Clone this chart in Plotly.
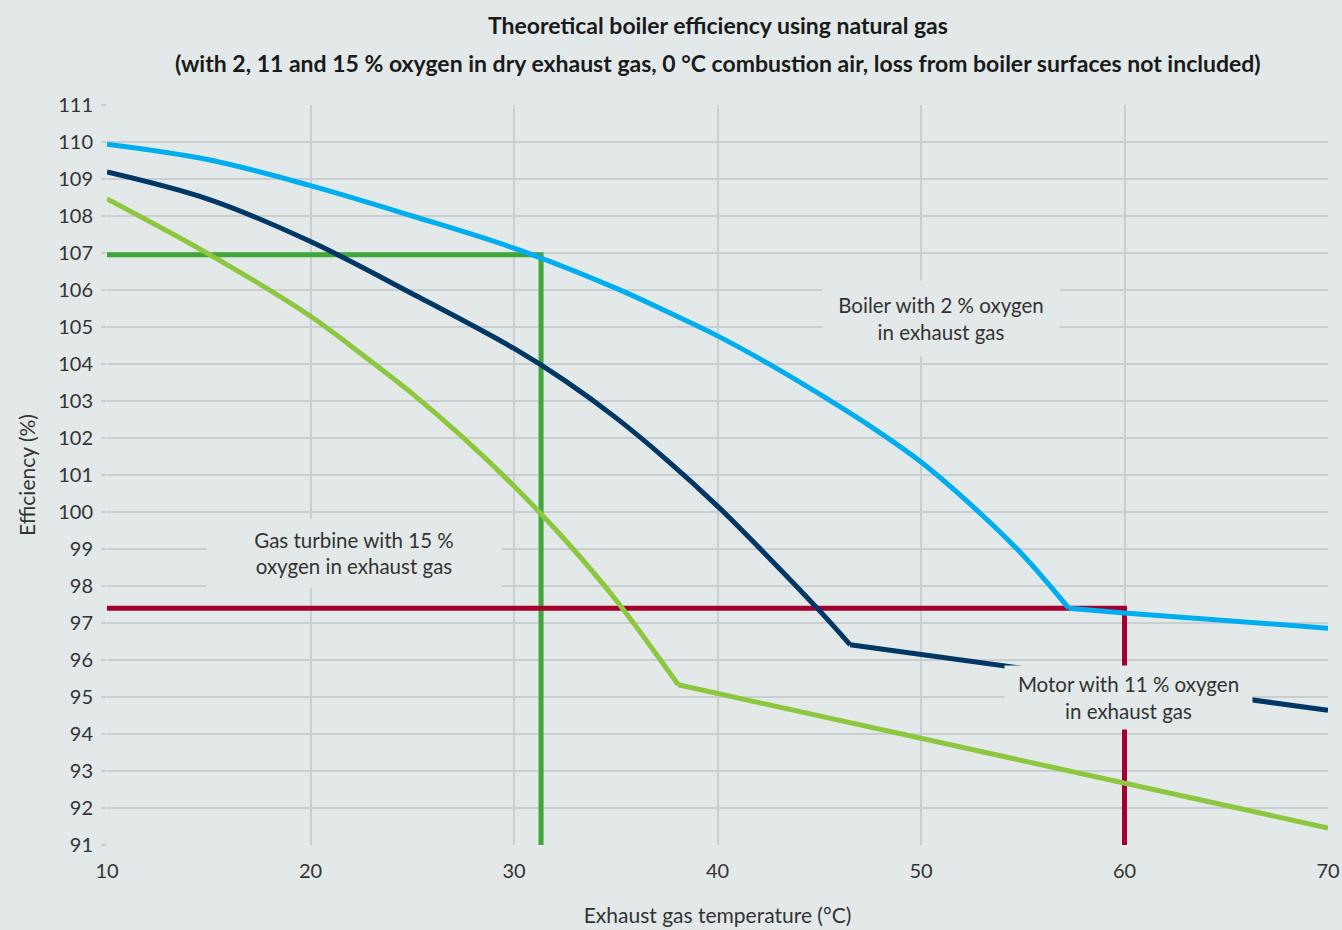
import plotly.graph_objects as go

# ---------------- data ----------------
boiler_curve_x = [10, 15, 20, 25, 30, 35, 37.5, 40, 42.5, 45, 47.5, 50, 52.5, 55, 57.26]
boiler_curve_y = [109.94, 109.52, 108.82, 108.0, 107.13, 106.05, 105.42, 104.76, 104.01, 103.19, 102.32, 101.35, 100.17, 98.84, 97.4]
boiler_tail_x = [57.26, 60, 70]
boiler_tail_y = [97.4, 97.27, 96.86]

motor_curve_x = [10, 15, 20, 25, 30, 32.5, 35, 37.5, 40, 42.5, 45, 46.52]
motor_curve_y = [109.19, 108.45, 107.31, 105.9, 104.42, 103.55, 102.55, 101.41, 100.16, 98.78, 97.34, 96.41]
motor_tail_x = [46.52, 70]
motor_tail_y = [96.41, 94.64]

turbine_curve_x = [10, 15, 20, 22.5, 25, 27.5, 30, 32.5, 35, 37.5, 38.07]
turbine_curve_y = [108.46, 106.97, 105.29, 104.27, 103.2, 102.01, 100.7, 99.25, 97.63, 95.77, 95.33]
turbine_tail_x = [38.07, 70]
turbine_tail_y = [95.33, 91.46]

green_ref_x = [10, 31.33, 31.33]
green_ref_y = [106.95, 106.95, 91]
red_ref_x = [10, 60, 60]
red_ref_y = [97.4, 97.4, 91]

x_ticks = [10, 20, 30, 40, 50, 60, 70]
y_ticks = list(range(91, 112))

labels = [
    dict(text="Boiler with 2 % oxygen<br>in exhaust gas", x=51.0, y=105.22, w=236, h=75),
    dict(text="Gas turbine with 15 %<br>oxygen in exhaust gas", x=22.16, y=98.9, w=294, h=68),
    dict(text="Motor with 11 % oxygen<br>in exhaust gas", x=60.19, y=94.98, w=247, h=63),
]

title_1 = "Theoretical boiler efficiency using natural gas"
title_2 = "(with 2, 11 and 15 % oxygen in dry exhaust gas, 0 °C combustion air, loss from boiler surfaces not included)"

# ---------------- styles ----------------
BG = "#e3e9e9"
GRID = "#c9cfd1"
TXT = "#333333"
LIGHT_BLUE = "#00aeef"
NAVY = "#003764"
LIME = "#8dc63f"
GREEN = "#3fa63a"
RED = "#a3002f"
FONT = "Lato"
LW = 5

fig = go.Figure()

def add_line(x, y, color, shape="linear"):
    fig.add_trace(go.Scatter(x=x, y=y, mode="lines",
                             line=dict(color=color, width=LW, shape=shape, smoothing=1.0),
                             hoverinfo="skip", showlegend=False))

add_line(green_ref_x, green_ref_y, GREEN)
add_line(red_ref_x, red_ref_y, RED)
add_line(turbine_curve_x, turbine_curve_y, LIME, "spline")
add_line(turbine_tail_x, turbine_tail_y, LIME)
add_line(motor_curve_x, motor_curve_y, NAVY, "spline")
add_line(motor_tail_x, motor_tail_y, NAVY)
add_line(boiler_curve_x, boiler_curve_y, LIGHT_BLUE, "spline")
add_line(boiler_tail_x, boiler_tail_y, LIGHT_BLUE)

annotations = []
for lab in labels:
    annotations.append(dict(
        text=lab["text"], x=lab["x"], y=lab["y"], xref="x", yref="y",
        showarrow=False, bgcolor=BG, width=lab["w"], height=lab["h"],
        borderpad=0, align="center", valign="middle",
        font=dict(family=FONT, size=20.5, color=TXT)))

annotations.append(dict(text="<b>" + title_1 + "</b>", x=0.5, y=1.108, xref="paper", yref="paper",
                        showarrow=False, xanchor="center", yanchor="middle",
                        font=dict(family=FONT, size=23, color="#1a1a1a")))
annotations.append(dict(text="<b>" + title_2 + "</b>", x=0.5, y=1.0568, xref="paper", yref="paper",
                        showarrow=False, xanchor="center", yanchor="middle",
                        font=dict(family=FONT, size=23, color="#1a1a1a")))

fig.update_layout(
    width=1342, height=930,
    margin=dict(l=107, r=14, t=105, b=85),
    paper_bgcolor=BG, plot_bgcolor=BG,
    font=dict(family=FONT, size=20, color=TXT),
    annotations=annotations,
    showlegend=False,
)

fig.update_xaxes(
    range=[10, 70], tickvals=x_ticks, ticktext=[str(v) for v in x_ticks],
    showgrid=True, gridcolor=GRID, gridwidth=1.5, zeroline=False, automargin=False,
    showline=False, ticks="", ticklabelstandoff=12, ticklabeloverflow="allow",
    title=dict(text="Exhaust gas temperature (°C)", font=dict(size=21, color=TXT), standoff=27),
    tickfont=dict(size=20, color=TXT),
)
fig.update_yaxes(
    range=[91, 111], tickvals=y_ticks, ticktext=[str(v) for v in y_ticks],
    showgrid=True, gridcolor=GRID, gridwidth=1.5, zeroline=False, automargin=False,
    showline=False, ticks="outside", ticklen=5, tickcolor=GRID, tickwidth=1.5,
    ticklabelstandoff=4,
    title=dict(text="Efficiency (%)", font=dict(size=21, color=TXT), standoff=16),
    tickfont=dict(size=20, color=TXT),
)

fig.write_html("out.html",
               config={"displayModeBar": False},
               post_script="document.body.style.margin='0';document.body.style.overflow='hidden';")
